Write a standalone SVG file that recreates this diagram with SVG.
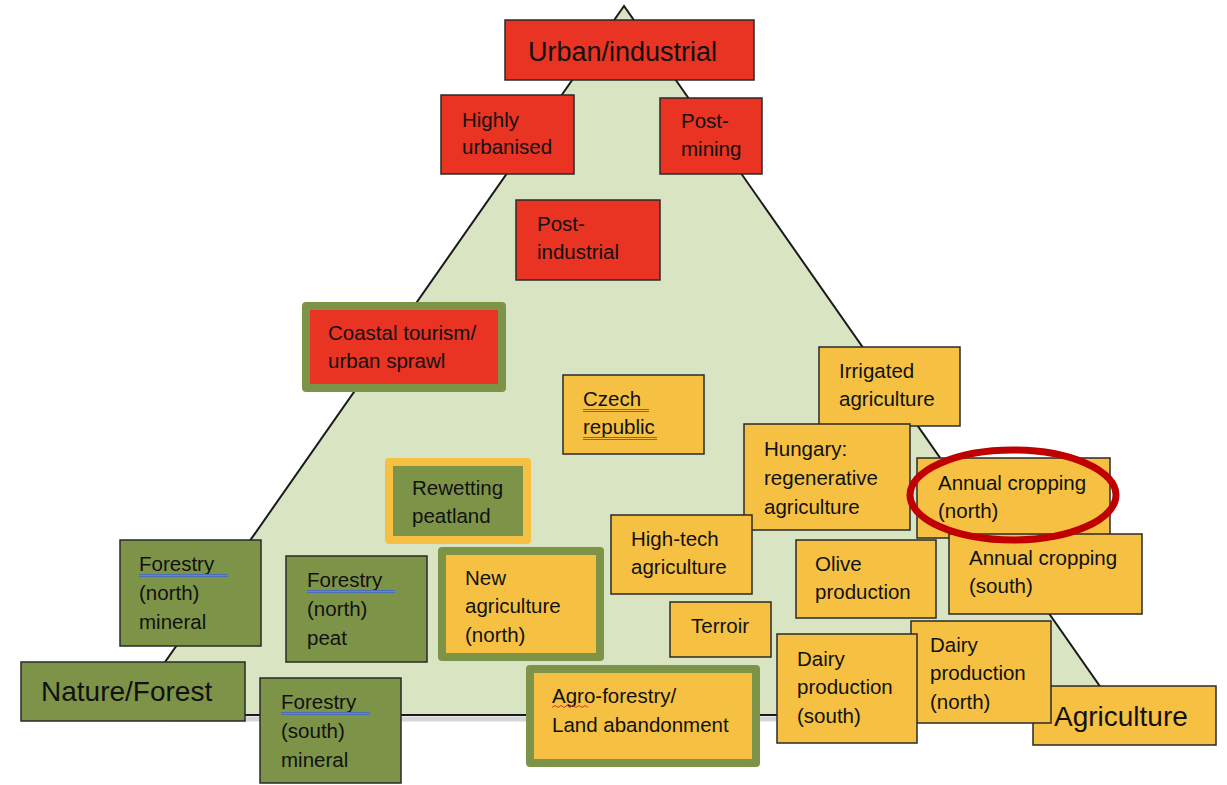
<svg xmlns="http://www.w3.org/2000/svg" width="1227" height="785" viewBox="0 0 1227 785">
<style>
text{font-family:"Liberation Sans",Arial,sans-serif;font-size:20.5px;fill:#111}
.big{font-size:28px}
.r{fill:#e93323;stroke:#2a2a2a;stroke-width:1.5}
.y{fill:#f6c143;stroke:#2a2a2a;stroke-width:1.5}
.g{fill:#7d9448;stroke:#2a2a2a;stroke-width:1.5}
.gb{stroke:#7d9448;stroke-width:8;stroke-linejoin:round}
.yb{stroke:#f6c143;stroke-width:8;stroke-linejoin:round}
.ul{stroke:#4a6fb5;stroke-width:1.2;fill:none}
</style>
<rect width="1227" height="785" fill="#ffffff"/>
<g id="triangle">
<line x1="170" y1="719" x2="1090" y2="719" stroke="#bbbbbb" stroke-width="5" opacity="0.6"/>
<polygon points="624,6 128,715 1120,715" fill="#d9e4c3" stroke="#1a1a1a" stroke-width="2" stroke-linejoin="miter"/>
</g>
<g id="connectors"></g>
<g id="urban-industrial"><rect class="r" x="505" y="20" width="249" height="60"/><text class="big" x="528" y="61" style="font-size:27px">Urban/industrial</text></g>
<g id="highly-urbanised"><rect class="r" x="441" y="95" width="133" height="79"/><text x="462" y="127">Highly</text><text x="462" y="154">urbanised</text></g>
<g id="post-mining"><rect class="r" x="660" y="98" width="102" height="76"/><text x="681" y="128">Post-</text><text x="681" y="156">mining</text></g>
<g id="post-industrial"><rect class="r" x="516" y="200" width="144" height="80"/><text x="537" y="231">Post-</text><text x="537" y="259">industrial</text></g>
<g id="coastal-tourism"><rect class="r gb" x="306" y="306" width="196" height="82"/><text x="328" y="340">Coastal tourism/</text><text x="328" y="368">urban sprawl</text></g>
<g id="czech-republic"><rect class="y" x="563" y="375" width="141" height="79"/><text x="583" y="406">Czech</text><text x="583" y="434">republic</text>
<path class="ul" d="M583 409.5H649M583 411.5H649M583 437.5H657M583 439.5H657"/></g>
<g id="rewetting-peatland"><rect class="g yb" x="389" y="462" width="138" height="78"/><text x="412" y="495">Rewetting</text><text x="412" y="523">peatland</text></g>
<g id="irrigated-agriculture"><rect class="y" x="819" y="347" width="141" height="79"/><text x="839" y="378">Irrigated</text><text x="839" y="406">agriculture</text></g>
<g id="hungary"><rect class="y" x="744" y="424" width="166" height="106"/><text x="764" y="456">Hungary:</text><text x="764" y="485">regenerative</text><text x="764" y="514">agriculture</text></g>
<g id="high-tech"><rect class="y" x="611" y="515" width="141" height="79"/><text x="631" y="546">High-tech</text><text x="631" y="574">agriculture</text></g>
<g id="annual-cropping-north"><rect class="y" x="917" y="458" width="193" height="80"/><text x="938" y="490">Annual cropping</text><text x="938" y="518">(north)</text></g>
<g id="annual-cropping-south"><rect class="y" x="949" y="534" width="193" height="80"/><text x="969" y="565">Annual cropping</text><text x="969" y="593">(south)</text></g>
<g id="olive-production"><rect class="y" x="796" y="540" width="140" height="78"/><text x="815" y="571">Olive</text><text x="815" y="599">production</text></g>
<g id="terroir"><rect class="y" x="670" y="602" width="101" height="55"/><text x="691" y="633">Terroir</text></g>
<g id="agriculture"><rect class="y" x="1033" y="686" width="183" height="59"/><text class="big" x="1054" y="726">Agriculture</text></g>
<g id="dairy-north"><rect class="y" x="911" y="621" width="140" height="102"/><text x="930" y="652">Dairy</text><text x="930" y="680">production</text><text x="930" y="709">(north)</text></g>
<g id="dairy-south"><rect class="y" x="777" y="634" width="140" height="109"/><text x="797" y="666">Dairy</text><text x="797" y="694">production</text><text x="797" y="723">(south)</text></g>
<g id="new-agriculture"><rect class="y gb" x="442" y="551" width="158" height="106"/><text x="465" y="585">New</text><text x="465" y="613">agriculture</text><text x="465" y="642">(north)</text></g>
<g id="agro-forestry"><rect class="y gb" x="530" y="669" width="226" height="94"/><text x="552" y="703">Agro-forestry/</text><text x="552" y="732">Land abandonment</text>
<path d="M552 707.5l3 -2l3 2l3 -2l3 2l3 -2l3 2l3 -2l3 2l3 -2l3 2l3 -2l3 2" stroke="#d43a2f" stroke-width="1" fill="none"/></g>
<g id="forestry-north-mineral"><rect class="g" x="120" y="540" width="141" height="106"/><text x="139" y="571">Forestry</text><text x="139" y="600">(north)</text><text x="139" y="629">mineral</text>
<path class="ul" d="M139 574.5H228M139 576.5H228"/></g>
<g id="forestry-north-peat"><rect class="g" x="286" y="556" width="141" height="106"/><text x="307" y="587">Forestry</text><text x="307" y="616">(north)</text><text x="307" y="645">peat</text>
<path class="ul" d="M307 590.5H395M307 592.5H395"/></g>
<g id="nature-forest"><rect class="g" x="21" y="662" width="224" height="59"/><text class="big" x="41" y="701">Nature/Forest</text></g>
<g id="forestry-south-mineral"><rect class="g" x="260" y="678" width="141" height="105"/><text x="281" y="709">Forestry</text><text x="281" y="738">(south)</text><text x="281" y="767">mineral</text>
<path class="ul" d="M281 712.5H370M281 714.5H370"/></g>
<g id="highlight"><ellipse cx="1013" cy="495" rx="103" ry="45" fill="none" stroke="#c00000" stroke-width="7"/></g>
</svg>
